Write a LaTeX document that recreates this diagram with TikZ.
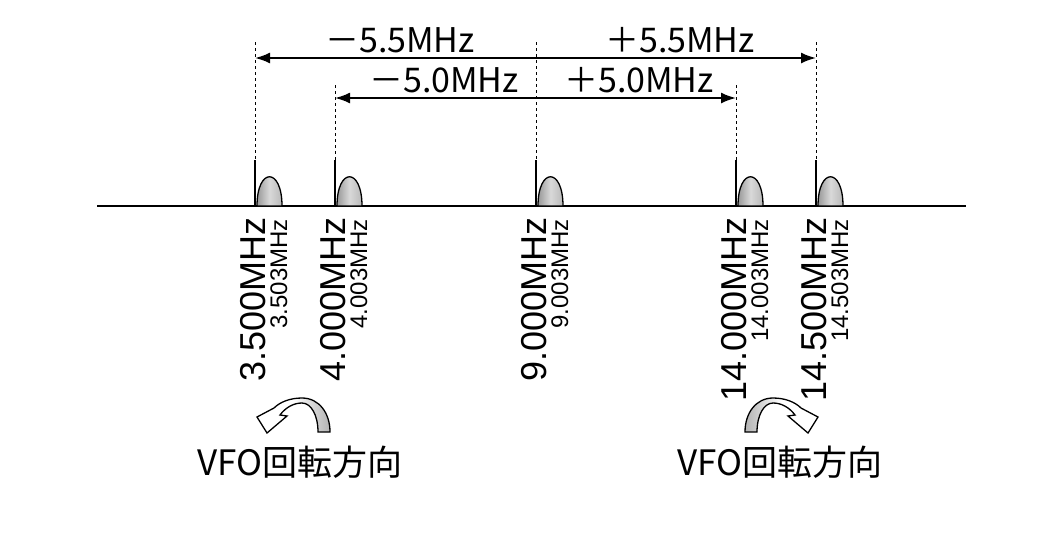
\documentclass[tikz,border=0pt]{standalone}
\usepackage{fontspec}
\setmainfont{Liberation Sans}
\newfontfamily\jp{Noto Sans CJK JP}
\usetikzlibrary{arrows.meta}
\begin{document}
\begin{tikzpicture}[x=1pt,y=-1pt,
 axisline/.style={line width=1.5pt},
 marker/.style={line width=1.5pt},
 guide/.style={line width=0.8pt, dash pattern=on 3pt off 3pt},
 span/.style={line width=2pt, {Latex[length=15pt,width=11pt]}-{Latex[length=15pt,width=11pt]}},
 biglab/.style={rotate=90, anchor=base east, inner sep=0pt, font=\fontsize{36}{36}\selectfont},
 smalllab/.style={rotate=90, anchor=base east, inner sep=0pt, font=\fontsize{24}{24}\selectfont},
 toplab/.style={anchor=base, inner sep=0pt, font=\jp\fontsize{34}{34}\selectfont},
 vfolab/.style={anchor=base, inner sep=0pt, font=\jp\fontsize{35}{35}\selectfont},
 bump/.style={draw, line width=1.3pt, left color=gray!80, right color=gray!55, middle color=gray!30},
 turn/.style={draw, line width=1.3pt, line join=miter}
]
\useasboundingbox[fill=white] (0,0) rectangle (1040,544);

% axis
\coordinate (L) at (97,206);
\coordinate (R) at (966,206);
\draw[axisline] (L) -- (R);

% markers, bumps, labels
\foreach \m/\top/\big/\sml [count=\i] in {255/42/3.500MHz/3.503MHz, 335/85/4.000MHz/4.003MHz, 536/42/9.000MHz/9.003MHz, 736/85/14.000MHz/14.003MHz, 816/42/14.500MHz/14.503MHz}{
  \coordinate (g\i) at (\m,\top);
  \coordinate (s\i) at (\m,160);
  \coordinate (f\i) at (\m,206);
  \draw[guide] (g\i) -- (s\i);
  \draw[marker] (s\i) -- (f\i);
  \path[bump] (\m+2,206) .. controls (\m+2,167) and (\m+27,167) .. (\m+27,206) -- cycle;
  \node[biglab] (big\i) at (\m+10,217) {\big};
  \node[smalllab] (sml\i) at (\m+32,219) {\sml};
}

% span arrows
\coordinate (a1) at (255,58);
\coordinate (a2) at (816,58);
\coordinate (b1) at (335,98);
\coordinate (b2) at (736,98);
\draw[span] (a1) -- (a2);
\draw[span] (b1) -- (b2);
\node[toplab] (tm55) at (400,52) {－5.5MHz};
\node[toplab] (tp55) at (680,52) {＋5.5MHz};
\node[toplab] (tm50) at (444,92) {－5.0MHz};
\node[toplab] (tp50) at (639,92) {＋5.0MHz};

% VFO rotation arrows
\path[turn, left color=white, right color=gray!60, middle color=white]
   (330,432) .. controls (330,413) and (319,398) .. (302,398)
   .. controls (290,398) and (280,402) .. (274,408)
   -- (257,417) -- (267,433) -- (287,416) -- (280,415)
   .. controls (286,407) and (294,403) .. (302,403)
   .. controls (311,403) and (318,415) .. (318,432) -- cycle;
\path[turn, left color=gray!60, right color=white, middle color=white]
   (745,432) .. controls (745,413) and (756,398) .. (773,398)
   .. controls (785,398) and (795,402) .. (801,408)
   -- (818,417) -- (808,433) -- (788,416) -- (795,415)
   .. controls (789,407) and (781,403) .. (773,403)
   .. controls (764,403) and (757,415) .. (757,432) -- cycle;

\node[vfolab] (vfoL) at (300,475) {VFO回転方向};
\node[vfolab] (vfoR) at (780,475) {VFO回転方向};
\end{tikzpicture}
\end{document}
